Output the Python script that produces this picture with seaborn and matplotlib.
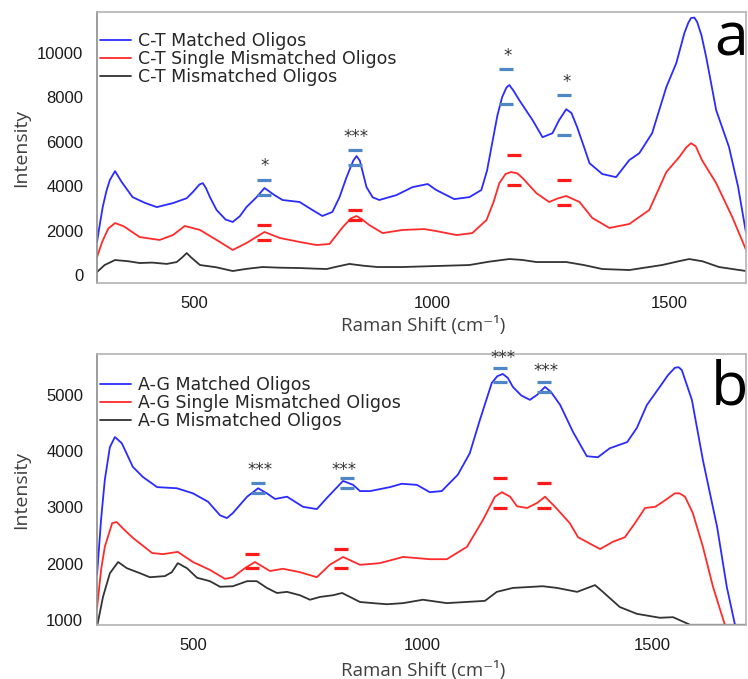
import numpy as np
import pandas as pd
import matplotlib
matplotlib.use("Agg")
import matplotlib.pyplot as plt
import seaborn as sns

# ---------------- Panel a: C-T oligos ----------------
ct_matched_x = [294, 300, 306, 314, 321, 332, 346, 369, 395, 420, 454, 483, 496, 510, 517, 524, 532,
                546, 565, 580, 595, 609, 630, 647, 668, 685, 721, 748, 769, 790, 805, 820, 834, 841,
                848, 862, 875, 889, 925, 959, 991, 1009, 1047, 1079, 1104, 1116, 1127, 1138, 1148,
                1157, 1163, 1172, 1184, 1212, 1233, 1254, 1268, 1283, 1294, 1306, 1320, 1332, 1359,
                1388, 1416, 1437, 1464, 1480, 1494, 1515, 1532, 1540, 1546, 1553, 1559, 1568, 1578,
                1599, 1626, 1645, 1662]
ct_matched_y = [1490, 2300, 3060, 3800, 4280, 4680, 4190, 3510, 3250, 3060, 3240, 3460, 3740, 4080,
                4140, 3900, 3510, 2930, 2500, 2390, 2650, 3060, 3500, 3920, 3600, 3380, 3290, 2930,
                2660, 2840, 3500, 4410, 5150, 5360, 5150, 3960, 3500, 3380, 3600, 3960, 4100, 3830,
                3420, 3510, 3830, 4700, 5950, 7200, 8020, 8450, 8560, 8300, 7880, 6980, 6210, 6390,
                6980, 7470, 7300, 6660, 5800, 5040, 4550, 4410, 5180, 5490, 6390, 7500, 8470, 9550,
                10900, 11350, 11580, 11600, 11400, 10800, 9820, 7430, 5770, 4000, 1890]

ct_single_x = [294, 305, 318, 332, 350, 384, 426, 454, 479, 511, 546, 580, 609, 647, 679, 721,
               757, 784, 812, 829, 841, 853, 868, 896, 938, 984, 1009, 1052, 1085, 1115, 1130, 1142,
               1155, 1167, 1180, 1191, 1220, 1247, 1265, 1283, 1311, 1338, 1374, 1416, 1458, 1494,
               1521, 1536, 1546, 1556, 1569, 1599, 1633, 1662]
ct_single_y = [810, 1500, 2100, 2340, 2200, 1710, 1580, 1800, 2210, 2030, 1580, 1130, 1440, 1940,
               1670, 1490, 1350, 1400, 2160, 2550, 2660, 2500, 2250, 1890, 2030, 2070, 1980, 1800,
               1890, 2480, 3300, 4140, 4550, 4640, 4580, 4370, 3690, 3290, 3450, 3560, 3290, 2570,
               2120, 2300, 2930, 4640, 5310, 5750, 5940, 5800, 5180, 4140, 2610, 1130]

ct_mismatch_x = [294, 310, 332, 360, 384, 410, 441, 462, 474, 483, 492, 511, 545, 580, 610, 643,
                 680, 721, 750, 778, 800, 826, 855, 885, 938, 1000, 1079, 1120, 1163, 1190, 1220,
                 1283, 1320, 1359, 1416, 1485, 1520, 1542, 1570, 1605, 1662]
ct_mismatch_y = [135, 450, 675, 620, 540, 560, 500, 585, 800, 990, 800, 450, 350, 180, 280, 360,
                 330, 315, 290, 270, 380, 500, 420, 360, 360, 400, 450, 600, 720, 680, 585, 585,
                 450, 270, 225, 450, 620, 720, 620, 360, 180]

ct_sig_blue_x = [647, 838, 1157, 1279]
ct_sig_blue_hi = [4280, 5630, 9280, 8110]
ct_sig_blue_lo = [3600, 4960, 7700, 6310]
ct_sig_red_x = [647, 838, 1172, 1279]
ct_sig_red_hi = [2250, 2930, 5400, 4280]
ct_sig_red_lo = [1580, 2480, 4060, 3150]
ct_star_x = [648, 840, 1160, 1283]
ct_star_y = [4900, 6200, 9850, 8680]
ct_star_text = ["*", "***", "*", "*"]

# ---------------- Panel b: A-G oligos ----------------
ag_matched_x = [291, 300, 308, 319, 330, 345, 369, 391, 422, 465, 500, 533, 559, 574, 587, 618, 642,
                661, 679, 705, 740, 770, 792, 827, 849, 864, 886, 929, 955, 988, 1016, 1042, 1077,
                1103, 1125, 1151, 1163, 1175, 1186, 1197, 1215, 1234, 1250, 1267, 1280, 1300, 1328,
                1358, 1382, 1408, 1446, 1467, 1489, 1517, 1535, 1550, 1558, 1565, 1587, 1611, 1642,
                1663, 1681, 1690]
ag_matched_y = [1800, 2800, 3490, 4070, 4250, 4140, 3720, 3540, 3360, 3340, 3250, 3100, 2860, 2810,
                2900, 3190, 3340, 3250, 3150, 3190, 3010, 2970, 3170, 3470, 3400, 3290, 3290, 3360,
                3420, 3400, 3270, 3290, 3580, 3960, 4550, 5210, 5330, 5370, 5300, 5140, 4990, 4910,
                5000, 5140, 5050, 4820, 4340, 3910, 3890, 4050, 4160, 4410, 4820, 5140, 5350, 5480,
                5490, 5440, 4910, 3840, 2650, 1590, 910, 500]

ag_single_x = [291, 300, 308, 324, 334, 347, 369, 411, 435, 467, 500, 537, 570, 587, 613, 635, 668,
               696, 733, 770, 798, 827, 864, 907, 958, 1016, 1053, 1097, 1132, 1158, 1173, 1191,
               1206, 1228, 1250, 1267, 1289, 1321, 1339, 1387, 1415, 1441, 1463, 1485, 1507, 1524,
               1550, 1560, 1572, 1589, 1611, 1633, 1659, 1670]
ag_single_y = [1210, 1900, 2300, 2720, 2740, 2630, 2460, 2190, 2170, 2210, 2030, 1890, 1730, 1760,
               1920, 2030, 1870, 1910, 1850, 1760, 1980, 2120, 1980, 2010, 2120, 2080, 2080, 2300,
               2780, 3190, 3270, 3190, 3020, 2990, 3080, 3190, 3010, 2720, 2470, 2260, 2390, 2470,
               2720, 2990, 3010, 3100, 3250, 3250, 3190, 2900, 2300, 1590, 910, 500]

ag_mismatch_x = [291, 304, 319, 337, 356, 385, 406, 439, 454, 467, 487, 509, 537, 559, 587, 618,
                 639, 661, 683, 705, 733, 755, 777, 805, 825, 842, 864, 892, 923, 958, 1001, 1053,
                 1136, 1162, 1197, 1262, 1293, 1337, 1376, 1393, 1430, 1467, 1517, 1546, 1583, 1707]
ag_mismatch_y = [880, 1410, 1830, 2030, 1920, 1830, 1760, 1780, 1850, 2010, 1920, 1750, 1690, 1590,
                 1600, 1690, 1690, 1570, 1480, 1500, 1440, 1360, 1410, 1440, 1480, 1410, 1320, 1300,
                 1280, 1300, 1360, 1300, 1340, 1500, 1570, 1600, 1570, 1500, 1620, 1500, 1230, 1110,
                 1040, 1050, 915, 915]

ag_sig_blue_x = [642, 835, 1169, 1265]
ag_sig_blue_hi = [3430, 3520, 5480, 5230]
ag_sig_blue_lo = [3250, 3340, 5230, 5050]
ag_sig_red_x = [628, 822, 1169, 1265]
ag_sig_red_hi = [2170, 2260, 3520, 3430]
ag_sig_red_lo = [1920, 1920, 2990, 2990]
ag_star_x = [647, 830, 1175, 1270]
ag_star_y = [3660, 3660, 5650, 5430]
ag_star_text = ["***", "***", "***", "***"]

LINE_COLORS = ["#2b2bff", "#ff2b2b", "#333333"]
DASH_BLUE = "#4f86c6"
DASH_RED = "#ff1a1a"

sns.set_style("white")
plt.rcParams["font.family"] = ["Liberation Sans", "DejaVu Sans"]

fig = plt.figure(figsize=(7.48, 6.79), dpi=100)
ax_a = fig.add_axes([0.1297, 0.5832, 0.8677, 0.3991])
ax_b = fig.add_axes([0.1297, 0.0795, 0.8677, 0.3991])


def long_frame(prefix, xs, ys):
    names = [f"{prefix} Matched Oligos", f"{prefix} Single Mismatched Oligos",
             f"{prefix} Mismatched Oligos"]
    parts = []
    for name, x, y in zip(names, xs, ys):
        parts.append(pd.DataFrame({"shift": x, "intensity": y, "sample": name}))
    return pd.concat(parts, ignore_index=True), names


def draw_panel(ax, prefix, xs, ys, sig_blue, sig_red, stars, xlim, ylim, yticks,
               letter, legend_top, letter_y):
    df, names = long_frame(prefix, xs, ys)
    sns.lineplot(data=df, x="shift", y="intensity", hue="sample", hue_order=names,
                 palette=LINE_COLORS, estimator=None, sort=True, linewidth=1.3, ax=ax)

    for (sx, hi, lo), col in ((sig_blue, DASH_BLUE), (sig_red, DASH_RED)):
        for yy in (hi, lo):
            ax.plot(sx, yy, linestyle="none", marker="_", markersize=10,
                    markeredgewidth=2.3, color=col, zorder=4)
    for x, y, s in zip(*stars):
        ax.text(x, y, s, ha="center", va="center", fontsize=12, color="#333333",
                family="DejaVu Sans", clip_on=False, zorder=5)

    ax.set_xlim(*xlim)
    ax.set_ylim(*ylim)
    ax.set_xticks([500, 1000, 1500])
    ax.set_yticks(yticks)
    ax.tick_params(axis="both", length=0, labelsize=12, labelcolor="#1a1a1a")
    ax.tick_params(axis="x", pad=9)
    ax.tick_params(axis="y", pad=10)
    for sp in ax.spines.values():
        sp.set_color("#b3b3b3")
        sp.set_linewidth(1.2)
    ax.spines["left"].set_color("#8c8c8c")

    ax.set_xlabel("Raman Shift (cm⁻¹)", family=["Open Sans", "DejaVu Sans"],
                  fontsize=13.5, color="#404040")
    ax.set_ylabel("Intensity", family=["Open Sans", "DejaVu Sans"],
                  fontsize=14, color="#404040")
    ax.yaxis.set_label_coords(-0.103, 0.5)

    handles, labels = ax.get_legend_handles_labels()
    ax.legend(handles, labels, loc="upper left", bbox_to_anchor=(0.005, legend_top),
              frameon=False, prop={"family": "DejaVu Sans", "size": 12.5},
              handlelength=1.75, handletextpad=0.45, labelspacing=0.0,
              borderaxespad=0.0, borderpad=0.0)

    ax.text(1.003, letter_y, letter, transform=ax.transAxes, ha="right", va="baseline",
            fontsize=44, family=["Open Sans", "DejaVu Sans"], color="black")


draw_panel(ax_a, "C-T",
           [ct_matched_x, ct_single_x, ct_mismatch_x],
           [ct_matched_y, ct_single_y, ct_mismatch_y],
           (ct_sig_blue_x, ct_sig_blue_hi, ct_sig_blue_lo),
           (ct_sig_red_x, ct_sig_red_hi, ct_sig_red_lo),
           (ct_star_x, ct_star_y, ct_star_text),
           (294, 1662), (-360, 11850), [0, 2000, 4000, 6000, 8000, 10000], "a",
           0.926, 0.841)
ax_a.xaxis.set_label_coords(0.502, -0.122)

draw_panel(ax_b, "A-G",
           [ag_matched_x, ag_single_x, ag_mismatch_x],
           [ag_matched_y, ag_single_y, ag_mismatch_y],
           (ag_sig_blue_x, ag_sig_blue_hi, ag_sig_blue_lo),
           (ag_sig_red_x, ag_sig_red_hi, ag_sig_red_lo),
           (ag_star_x, ag_star_y, ag_star_text),
           (291, 1705), (911, 5724), [1000, 2000, 3000, 4000, 5000], "b",
           0.919, 0.812)
ax_b.xaxis.set_label_coords(0.502, -0.133)

fig.savefig("out.png", dpi=100, facecolor="white")
